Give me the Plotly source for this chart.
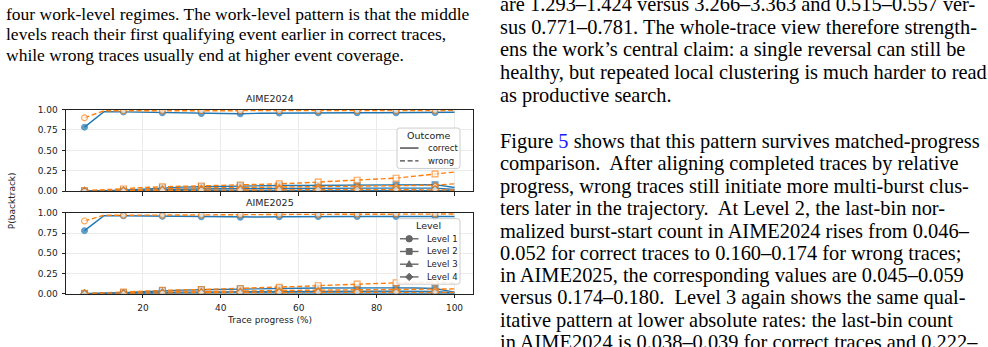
import plotly.graph_objects as go

# ---------------- data ----------------
progress = [5, 10, 15, 20, 25, 30, 35, 40, 45, 50, 55, 60, 65, 70, 75, 80, 85, 90, 95, 100]
datasets = ["AIME2024", "AIME2025"]
levels = ["Level 1", "Level 2", "Level 3", "Level 4"]
outcomes = ["correct", "wrong"]

aime2024_l1_correct = [0.785, 0.975, 0.972, 0.968, 0.962, 0.955, 0.952, 0.952, 0.950, 0.955, 0.958, 0.960, 0.960, 0.962, 0.962, 0.962, 0.962, 0.963, 0.965, 0.968]
aime2024_l1_wrong = [0.900, 0.985, 0.985, 0.985, 0.985, 0.985, 0.985, 0.985, 0.985, 0.986, 0.986, 0.986, 0.986, 0.986, 0.987, 0.987, 0.987, 0.988, 0.988, 0.990]
aime2024_l2_correct = [0.000, 0.005, 0.012, 0.025, 0.040, 0.050, 0.055, 0.060, 0.065, 0.068, 0.070, 0.070, 0.072, 0.072, 0.073, 0.074, 0.075, 0.078, 0.080, 0.045]
aime2024_l2_wrong = [0.008, 0.015, 0.028, 0.045, 0.055, 0.060, 0.065, 0.070, 0.075, 0.082, 0.090, 0.100, 0.112, 0.122, 0.135, 0.145, 0.160, 0.185, 0.210, 0.235]
aime2024_l3_correct = [0.000, 0.002, 0.006, 0.012, 0.020, 0.025, 0.028, 0.030, 0.032, 0.033, 0.035, 0.035, 0.036, 0.036, 0.037, 0.037, 0.038, 0.038, 0.038, 0.020]
aime2024_l3_wrong = [0.000, 0.003, 0.010, 0.020, 0.030, 0.035, 0.040, 0.042, 0.045, 0.048, 0.050, 0.052, 0.055, 0.057, 0.060, 0.062, 0.065, 0.070, 0.075, 0.090]
aime2024_l4_correct = [0.000, 0.000, 0.002, 0.004, 0.006, 0.007, 0.008, 0.009, 0.010, 0.010, 0.011, 0.011, 0.011, 0.012, 0.012, 0.012, 0.012, 0.012, 0.012, 0.005]
aime2024_l4_wrong = [0.000, 0.000, 0.003, 0.006, 0.010, 0.012, 0.014, 0.015, 0.016, 0.017, 0.018, 0.018, 0.019, 0.019, 0.020, 0.020, 0.021, 0.021, 0.022, 0.015]

aime2025_l1_correct = [0.780, 0.965, 0.963, 0.960, 0.958, 0.955, 0.950, 0.948, 0.945, 0.948, 0.952, 0.955, 0.955, 0.955, 0.955, 0.955, 0.955, 0.955, 0.955, 0.955]
aime2025_l1_wrong = [0.900, 0.970, 0.970, 0.970, 0.970, 0.972, 0.972, 0.975, 0.975, 0.978, 0.980, 0.980, 0.980, 0.982, 0.982, 0.983, 0.985, 0.985, 0.985, 0.985]
aime2025_l2_correct = [0.000, 0.005, 0.012, 0.025, 0.038, 0.045, 0.050, 0.055, 0.060, 0.063, 0.065, 0.068, 0.070, 0.072, 0.073, 0.073, 0.072, 0.070, 0.065, 0.020]
aime2025_l2_wrong = [0.005, 0.010, 0.020, 0.032, 0.043, 0.048, 0.052, 0.058, 0.065, 0.072, 0.080, 0.090, 0.100, 0.110, 0.120, 0.128, 0.135, 0.140, 0.145, 0.130]
aime2025_l3_correct = [0.000, 0.002, 0.005, 0.010, 0.016, 0.020, 0.022, 0.024, 0.026, 0.027, 0.028, 0.029, 0.030, 0.030, 0.031, 0.031, 0.031, 0.030, 0.028, 0.010]
aime2025_l3_wrong = [0.000, 0.003, 0.008, 0.015, 0.022, 0.026, 0.030, 0.032, 0.035, 0.037, 0.040, 0.042, 0.044, 0.046, 0.048, 0.050, 0.052, 0.055, 0.058, 0.060]
aime2025_l4_correct = [0.000, 0.000, 0.002, 0.004, 0.006, 0.007, 0.008, 0.009, 0.010, 0.010, 0.010, 0.011, 0.011, 0.011, 0.011, 0.011, 0.011, 0.010, 0.010, 0.004]
aime2025_l4_wrong = [0.000, 0.000, 0.003, 0.006, 0.009, 0.011, 0.013, 0.014, 0.015, 0.016, 0.017, 0.017, 0.018, 0.018, 0.019, 0.019, 0.020, 0.020, 0.021, 0.015]

y_ticks = [0.0, 0.25, 0.5, 0.75, 1.0]
x_ticks = [20, 40, 60, 80, 100]

left_text = [
    "four work-level regimes. The work-level pattern is that the middle",
    "levels reach their first qualifying event earlier in correct traces,",
    "while wrong traces usually end at higher event coverage.",
]
right_text_1 = [
    "are 1.293–1.424 versus 3.266–3.363 and 0.515–0.557 ver-",
    "sus 0.771–0.781. The whole-trace view therefore strength-",
    "ens the work’s central claim: a single reversal can still be",
    "healthy, but repeated local clustering is much harder to read",
    "as productive search.",
]
right_text_2 = [
    "Figure <span style='color:#1a1aff'>5</span> shows that this pattern survives matched-progress",
    "comparison.  After aligning completed traces by relative",
    "progress, wrong traces still initiate more multi-burst clus-",
    "ters later in the trajectory.  At Level 2, the last-bin nor-",
    "malized burst-start count in AIME2024 rises from 0.046–",
    "0.052 for correct traces to 0.160–0.174 for wrong traces;",
    "in AIME2025, the corresponding values are 0.045–0.059",
    "versus 0.174–0.180.  Level 3 again shows the same qual-",
    "itative pattern at lower absolute rates: the last-bin count",
    "in AIME2024 is 0.038–0.039 for correct traces and 0.222–",
]

series = {
    ("AIME2024", "Level 1", "correct"): aime2024_l1_correct,
    ("AIME2024", "Level 1", "wrong"): aime2024_l1_wrong,
    ("AIME2024", "Level 2", "correct"): aime2024_l2_correct,
    ("AIME2024", "Level 2", "wrong"): aime2024_l2_wrong,
    ("AIME2024", "Level 3", "correct"): aime2024_l3_correct,
    ("AIME2024", "Level 3", "wrong"): aime2024_l3_wrong,
    ("AIME2024", "Level 4", "correct"): aime2024_l4_correct,
    ("AIME2024", "Level 4", "wrong"): aime2024_l4_wrong,
    ("AIME2025", "Level 1", "correct"): aime2025_l1_correct,
    ("AIME2025", "Level 1", "wrong"): aime2025_l1_wrong,
    ("AIME2025", "Level 2", "correct"): aime2025_l2_correct,
    ("AIME2025", "Level 2", "wrong"): aime2025_l2_wrong,
    ("AIME2025", "Level 3", "correct"): aime2025_l3_correct,
    ("AIME2025", "Level 3", "wrong"): aime2025_l3_wrong,
    ("AIME2025", "Level 4", "correct"): aime2025_l4_correct,
    ("AIME2025", "Level 4", "wrong"): aime2025_l4_wrong,
}

# ---------------- styling ----------------
W, H = 988, 347
def px(x):
    return x / W
def py(y):
    return 1 - y / H

colors = {"correct": "#1f77b4", "wrong": "#ff7f0e"}
dashes = {"correct": "solid", "wrong": "5px,2.6px"}
symbols = {"Level 1": "circle", "Level 2": "square", "Level 3": "triangle-up", "Level 4": "diamond"}
marker_sizes = [5.8 if i % 2 == 0 else 0 for i in range(len(progress))]
chart_font = "DejaVu Sans, sans-serif"
page_font = "Liberation Serif, Times New Roman, serif"
ink = "#222222"

fig = go.Figure()

axis_ids = {"AIME2024": ("x", "y"), "AIME2025": ("x2", "y2")}
for ds in datasets:
    xa, ya = axis_ids[ds]
    for lv in levels:
        for oc in outcomes:
            c = colors[oc]
            fig.add_trace(go.Scatter(
                x=progress, y=series[(ds, lv, oc)], xaxis=xa, yaxis=ya,
                mode="lines+markers", showlegend=False, hoverinfo="skip",
                line=dict(color=c, width=1.4, dash=dashes[oc]),
                marker=dict(symbol=symbols[lv], size=marker_sizes,
                            color=c if oc == "correct" else "white",
                            line=dict(color=c, width=1.2)),
            ))

x_dom = [px(66), px(473)]
top_dom = [py(191.7), py(107.7)]
bot_dom = [py(297.3), py(214)]

common_x = dict(range=[0.25, 104.75], tickvals=x_ticks, showgrid=True, gridcolor="#ebebeb",
                gridwidth=0.8, showline=True, mirror=True, linecolor=ink, linewidth=1,
                ticks="outside", ticklen=3.5, tickwidth=0.9, tickcolor=ink, zeroline=False,
                ticklabelstandoff=2,
                tickfont=dict(family=chart_font, size=9, color=ink))
common_y = dict(range=[0, 1], tickvals=y_ticks, tickformat=".2f", showgrid=True, gridcolor="#ebebeb",
                gridwidth=0.8, showline=True, mirror=True, linecolor=ink, linewidth=1,
                ticks="outside", ticklen=3.5, tickwidth=0.9, tickcolor=ink, zeroline=False,
                ticklabelstandoff=2,
                tickfont=dict(family=chart_font, size=9, color=ink))

fig.update_layout(
    width=W, height=H, margin=dict(l=0, r=0, t=0, b=0),
    paper_bgcolor="white", plot_bgcolor="white", showlegend=False,
    xaxis=dict(domain=x_dom, anchor="y", showticklabels=False, **common_x),
    yaxis=dict(domain=top_dom, anchor="x", **common_y),
    xaxis2=dict(domain=x_dom, anchor="y2", **common_x),
    yaxis2=dict(domain=bot_dom, anchor="x2", **common_y),
)

ann = []
shapes = []

def text_ann(t, x, y, size, family=chart_font, xanchor="center", angle=0, color=ink):
    ann.append(dict(text=t, x=px(x), y=py(y), xref="paper", yref="paper", showarrow=False,
                    xanchor=xanchor, yanchor="middle", textangle=angle,
                    font=dict(family=family, size=size, color=color)))

# chart titles / labels
text_ann("AIME2024", 269.5, 96.5, 9.5)
text_ann("AIME2025", 269.5, 203, 9.5)
text_ann("Trace progress (%)", 269.5, 324.5, 9)
text_ann("P(backtrack)", 12, 202, 9, angle=-90)

# ---- hand-built legends (matplotlib-like compact boxes) ----
def rounded_box(x0, y0, x1, y1, r=2.5):
    def P(x, y):
        return f"{px(x):.6f},{py(y):.6f}"
    path = (f"M{P(x0 + r, y0)} L{P(x1 - r, y0)} Q{P(x1, y0)} {P(x1, y0 + r)} "
            f"L{P(x1, y1 - r)} Q{P(x1, y1)} {P(x1 - r, y1)} L{P(x0 + r, y1)} "
            f"Q{P(x0, y1)} {P(x0, y1 - r)} L{P(x0, y0 + r)} Q{P(x0, y0)} {P(x0 + r, y0)} Z")
    shapes.append(dict(type="path", xref="paper", yref="paper", path=path, layer="above",
                       fillcolor="rgba(255,255,255,0.85)", line=dict(color="#cccccc", width=1)))

def marker_shape(symbol, cx, cy, s=3.2, color="#666666"):
    base = dict(xref="paper", yref="paper", xsizemode="pixel", ysizemode="pixel",
                xanchor=px(cx), yanchor=py(cy), layer="above",
                fillcolor=color, line=dict(color=color, width=1))
    if symbol == "circle":
        shapes.append(dict(type="circle", x0=-s, x1=s, y0=-s, y1=s, **base))
    elif symbol == "square":
        shapes.append(dict(type="rect", x0=-s * 0.9, x1=s * 0.9, y0=-s * 0.9, y1=s * 0.9, **base))
    elif symbol == "triangle-up":
        shapes.append(dict(type="path", path=f"M0,{s*1.1} L{s},{-s*0.75} L{-s},{-s*0.75} Z", **base))
    else:
        shapes.append(dict(type="path", path=f"M0,{s*1.15} L{s*1.15},0 L0,{-s*1.15} L{-s*1.15},0 Z", **base))

def handle_line(y, dash, color):
    shapes.append(dict(type="line", xref="paper", yref="paper", x0=px(400), x1=px(418.5),
                       y0=py(y), y1=py(y), layer="above",
                       line=dict(color=color, width=1.4, dash=dash)))

# Outcome legend (top panel)
rounded_box(397, 126.7, 460, 168.3)
text_ann("Outcome", 428.5, 134.5, 9.5)
for i, oc in enumerate(outcomes):
    yy = 147.3 + 13.2 * i
    handle_line(yy, dashes[oc], "#444444")
    text_ann(oc, 425.5, yy, 8.5, xanchor="left")

# Level legend (bottom panel)
rounded_box(397, 220, 460, 287.5)
text_ann("Level", 428.5, 227, 9.5)
for i, lv in enumerate(levels):
    yy = 240.7 + 13.1 * i
    handle_line(yy, "solid", "#666666")
    marker_shape(symbols[lv], 409.2, yy)
    text_ann(lv, 424.5, yy, 8.5, xanchor="left")

# surrounding page text
for i, t in enumerate(left_text):
    text_ann(t, 4, 9 + 21 * i, 17.5, family=page_font, xanchor="left", color="black")
for i, t in enumerate(right_text_1):
    text_ann(t, 498, -0.7 + 23.5 * i, 20.4, family=page_font, xanchor="left", color="black")
for i, t in enumerate(right_text_2):
    text_ann(t, 498, 140.5 + 23 * i, 20.4, family=page_font, xanchor="left", color="black")

fig.update_layout(annotations=ann, shapes=shapes)
fig.write_html("out.html")
